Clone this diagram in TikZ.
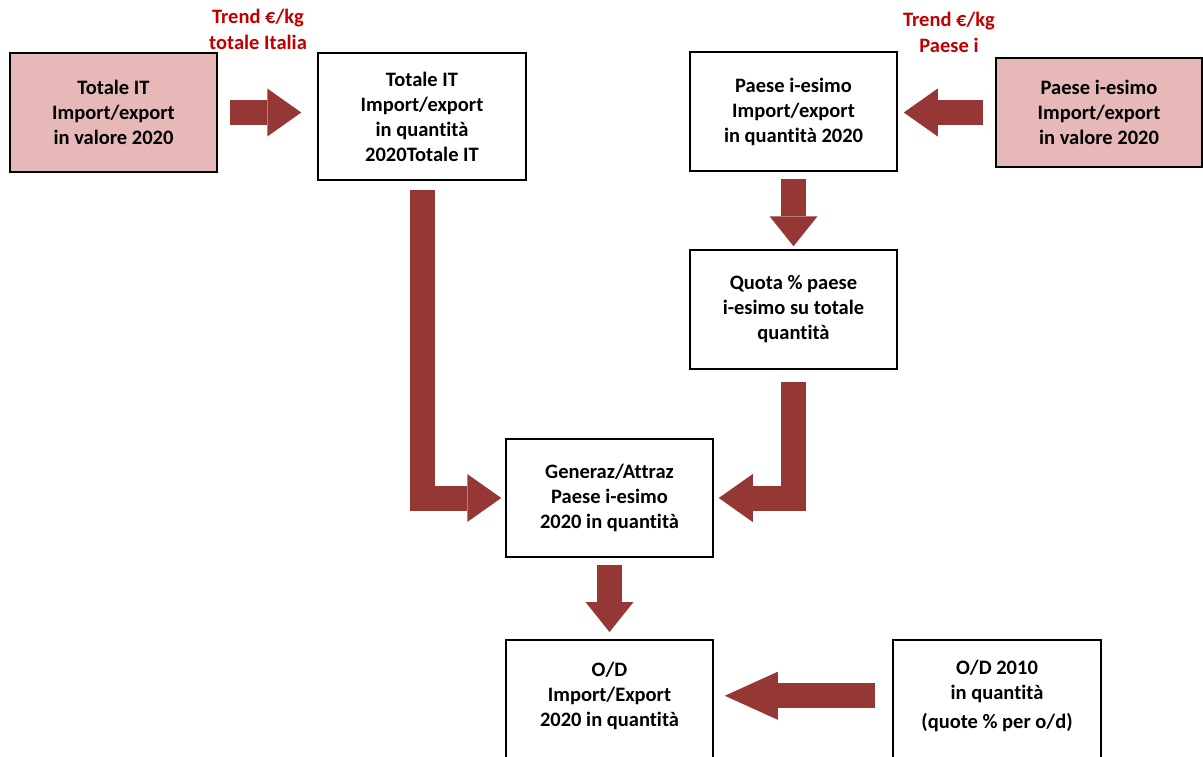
\documentclass[tikz,border=0pt]{standalone}
\usepackage{fontspec}
\setmainfont{Carlito}[Ligatures=NoCommon]
\usetikzlibrary{arrows.meta}
\definecolor{freccia}{HTML}{953735}
\definecolor{rosa}{HTML}{E6B9B8}
\definecolor{rosso}{HTML}{C00000}
\newcommand{\giu}{\rule[-30pt]{0pt}{0pt}}

\begin{document}
\begin{tikzpicture}[x=1pt, y=-1pt,
	box/.style={draw=black, line width=1.5pt, align=center, minimum width=207pt, minimum height=119pt, inner sep=2pt, font=\fontsize{20.5}{25}\selectfont\bfseries},
	valbox/.style={box, fill=rosa},
	trend/.style={align=center, text=rosso, inner sep=0pt, font=\fontsize{20.5}{26}\selectfont\bfseries},
	blockarrow/.style={draw=freccia, line width=25pt, -{Triangle[length=34pt, width=48pt, line width=0pt 0]}},
	downarrow/.style={blockarrow, -{Triangle[length=30pt, width=48pt, line width=0pt 0]}},
	longarrow/.style={blockarrow, -{Triangle[length=53pt, width=48pt, line width=0pt 0]}}]
	\clip (0,0) rectangle (1203,756);
	%i riquadri
	\node[valbox] (totval) at (113.5,112.5) {Totale IT\\Import/export\\in valore 2020};
	\node[box, minimum width=208pt, minimum height=127pt] (totqty) at (422,116.5) {Totale IT\\Import/export\\in quantità\\2020Totale IT};
	\node[box] (paeqty) at (793.5,111.5) {Paese i-esimo\\Import/export\\in quantità 2020};
	\node[valbox, minimum width=206pt, minimum height=109pt] (paeval) at (1099,112.5) {Paese i-esimo\\Import/export\\in valore 2020};
	\node[box] (quota) at (793.5,309.5) {Quota \% paese\\i-esimo su totale\\quantità};
	\node[box, minimum height=118pt] (gen) at (609.5,498) {Generaz/Attraz\\Paese i-esimo\\2020 in quantità};
	\node[box, anchor=north, minimum height=140pt] (od) at (609.5,639) {O/D\\Import/Export\\2020 in quantità\giu};
	\node[box, anchor=north, minimum width=208pt, minimum height=140pt] (odold) at (997,639) {O/D 2010\\in quantità\\[4pt](quote \% per o/d)\giu};
	%le etichette
	\node[trend] (trendit) at (258,29) {Trend €/kg\\totale Italia};
	\node[trend] (trendpae) at (949,32) {Trend €/kg\\Paese i};
	%le frecce
	\draw[blockarrow] ([xshift=12pt]totval.east) -- ([xshift=-16pt]totval.east -| totqty.west);
	\draw[blockarrow] ([xshift=-12pt]paeval.west) -- ([xshift=6pt]paeval.west -| paeqty.east);
	\draw[downarrow] ([yshift=-7pt]paeqty.south) -- ([yshift=3pt]quota.north);
	\draw[blockarrow] ([yshift=-9pt]totqty.south) |- ([xshift=-4pt]gen.west);
	\draw[blockarrow] ([yshift=-12pt]quota.south) |- ([xshift=5pt]gen.east);
	\draw[downarrow] ([yshift=-7pt]gen.south) -- ([yshift=7pt]od.north);
	\draw[longarrow] ([xshift=-17pt,yshift=14pt]odold.west) -- ([xshift=11pt,yshift=14pt]od.east);
\end{tikzpicture}
\end{document}
